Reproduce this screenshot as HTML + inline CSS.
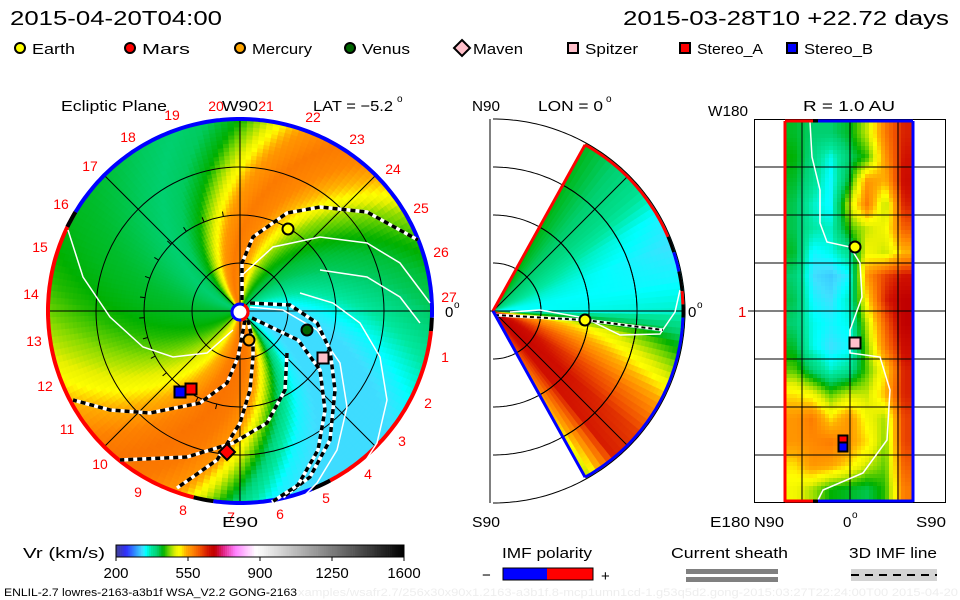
<!DOCTYPE html>
<html><head><meta charset="utf-8"><style>
html,body{margin:0;padding:0;background:#fff;}
svg{display:block;font-family:"Liberation Sans",sans-serif;}
</style></head><body>
<svg id="s" width="960" height="600" viewBox="0 0 960 600" xmlns="http://www.w3.org/2000/svg">
<rect width="960" height="600" fill="#fff"/>
<g id="leftCells"></g>
<g id="midCells"></g>
<g id="rightCells"></g>
<g id="overlay"></g>
<g id="texts" font-size="15" fill="#000">
<text x="10" y="25" font-size="20" textLength="212" lengthAdjust="spacingAndGlyphs">2015-04-20T04:00</text>
<text x="623" y="25" font-size="20" textLength="326" lengthAdjust="spacingAndGlyphs">2015-03-28T10 +22.72 days</text>
<text x="61" y="111" textLength="106" lengthAdjust="spacingAndGlyphs">Ecliptic Plane</text>
<text x="222" y="111" textLength="36" lengthAdjust="spacingAndGlyphs">W90</text>
<text x="313" y="111" textLength="80" lengthAdjust="spacingAndGlyphs">LAT = −5.2</text>
<text x="397" y="102" font-size="10">o</text>
<text x="222" y="527" textLength="36" lengthAdjust="spacingAndGlyphs">E90</text>
<text x="445" y="317">0</text><text x="454" y="308" font-size="10">o</text>
<text x="472" y="111" textLength="28" lengthAdjust="spacingAndGlyphs">N90</text>
<text x="538" y="111" textLength="65" lengthAdjust="spacingAndGlyphs">LON = 0</text>
<text x="606" y="102" font-size="10">o</text>
<text x="472" y="527" textLength="28" lengthAdjust="spacingAndGlyphs">S90</text>
<text x="688" y="317">0</text><text x="697" y="308" font-size="10">o</text>
<text x="708" y="116" textLength="40" lengthAdjust="spacingAndGlyphs">W180</text>
<text x="803" y="111" textLength="92" lengthAdjust="spacingAndGlyphs">R = 1.0 AU</text>
<text x="710" y="527" textLength="40" lengthAdjust="spacingAndGlyphs">E180</text>
<text x="754" y="527" textLength="30" lengthAdjust="spacingAndGlyphs">N90</text>
<text x="843" y="527">0</text><text x="852" y="518" font-size="10">o</text>
<text x="916" y="527" textLength="30" lengthAdjust="spacingAndGlyphs">S90</text>
<text x="738" y="317" fill="#e00">1</text>
<text x="23" y="558" textLength="82" lengthAdjust="spacingAndGlyphs">Vr (km/s)</text>
<text x="502" y="558" textLength="90" lengthAdjust="spacingAndGlyphs">IMF polarity</text>
<text x="482" y="580">−</text>
<text x="601" y="581">+</text>
<text x="671" y="558" textLength="117" lengthAdjust="spacingAndGlyphs">Current sheath</text>
<text x="849" y="558" textLength="88" lengthAdjust="spacingAndGlyphs">3D IMF line</text>
<text x="4" y="596" font-size="11" textLength="293" lengthAdjust="spacingAndGlyphs">ENLIL-2.7 lowres-2163-a3b1f WSA_V2.2 GONG-2163</text>
<text x="298" y="596" font-size="11" fill="#eee" textLength="660" lengthAdjust="spacingAndGlyphs">xamples/wsafr2.7/256x30x90x1.2163-a3b1f.8-mcp1umn1cd-1.g53q5d2.gong-2015:03:27T22:24:00T00    2015-04-20</text>
</g>
</svg>
<script>
// ---- data ----
const phaseDeg = [0,10,20,30,40,50,60,70,80,90,100,110,120,130,140,150,160,170,180,190,200,210,220,230,240,250,260,270,280,290,300,310,320,330,340,350];
const phaseVr = [328,328,340,362,385,405,415,435,465,525,570,580,560,490,430,405,400,405,412,418,422,428,438,455,478,505,545,575,585,580,560,470,390,340,328,328];
const latDeg = [60,50,40,30,20,10,0,-10,-20,-30,-40,-50,-60];
const latVrInner = [430,410,400,390,370,350,340,600,660,680,680,660,650];
const latVrOuter = [420,400,380,340,330,340,360,420,480,560,620,640,480];
const mapRows = [
[420,400,400,420,480,580,640],
[430,390,350,400,440,560,650],
[420,380,340,420,560,540,660],
[410,360,340,480,580,470,640],
[410,370,360,440,480,500,600],
[420,340,350,380,500,480,540],
[400,330,320,340,560,620,650],
[410,340,330,360,520,640,680],
[400,350,340,350,480,600,680],
[420,350,330,340,460,580,660],
[450,400,360,380,450,520,640],
[520,500,450,480,480,540,640],
[560,580,520,560,500,470,620],
[560,570,580,560,520,460,620],
[520,560,550,520,480,450,600],
[500,470,430,420,410,440,580]];
const cbTicks = [200,550,900,1250,1600];
const cmapVals = [200,250,300,330,345,370,400,430,460,490,510,540,570,610,650,680,720,780,880,1600];
const cmapCols = ["#404090","#3030ff","#30a0ff","#40e0ff","#00ffff","#00e8a0","#00d070","#00b000","#80d800","#e8f000","#ffff00","#ffb000","#ff8800","#f05000","#d01000","#c00000","#e02080","#ff80ff","#ffffff","#000000"];

const NS="http://www.w3.org/2000/svg";
function hex(c){return [parseInt(c.slice(1,3),16),parseInt(c.slice(3,5),16),parseInt(c.slice(5,7),16)];}
function cmap(v){
  if(v<=cmapVals[0]) return cmapCols[0];
  for(let i=0;i<cmapVals.length-1;i++){
    if(v<=cmapVals[i+1]){const t=(v-cmapVals[i])/(cmapVals[i+1]-cmapVals[i]);const a=hex(cmapCols[i]),b=hex(cmapCols[i+1]);
      return "rgb("+a.map((x,j)=>Math.round(x+(b[j]-x)*t)).join(",")+")";}
  }
  return cmapCols[cmapCols.length-1];
}
function el(tag,attrs,parent){const e=document.createElementNS(NS,tag);for(const k in attrs)e.setAttribute(k,attrs[k]);(parent||document.getElementById('overlay')).appendChild(e);return e;}
function pol(cx,cy,r,a){const t=a*Math.PI/180;return [cx+r*Math.cos(t),cy-r*Math.sin(t)];}
function lerpArr(xs,ys,x){
  for(let i=0;i<xs.length-1;i++){const a=xs[i],b=xs[i+1];if((x-a)*(x-b)<=0){const t=(x-a)/(b-a);return ys[i]+(ys[i+1]-ys[i])*t;}}
  return Math.abs(x-xs[0])<Math.abs(x-xs[xs.length-1])?ys[0]:ys[ys.length-1];
}
function phaseVel(p){p=((p%360)+360)%360;const i=Math.floor(p/10),t=(p-phaseDeg[i])/10;return phaseVr[i]+(phaseVr[(i+1)%36]-phaseVr[i])*t;}

// ---- left: ecliptic plane ----
const LX=240,LY=311,LR=192,K=0.26;
const lg=document.getElementById('leftCells');
for(let r=8;r<LR;r+=4){for(let a=0;a<360;a+=2){
  const r2=Math.min(r+4,LR);const v=phaseVel(a+1+K*(r+2));const c=cmap(v);
  const p=[pol(LX,LY,r,a),pol(LX,LY,r2,a),pol(LX,LY,r2,a+2),pol(LX,LY,r,a+2)];
  const e=el('polygon',{points:p.map(q=>q[0].toFixed(1)+","+q[1].toFixed(1)).join(" "),fill:c,stroke:c,'stroke-width':0.7},lg);
  
  
}}
const gl=el('g',{stroke:"#000",'stroke-width':1,fill:"none"});


[48,96,144].forEach(r=>el('circle',{cx:LX,cy:LY,r:r},gl));
[0,45,90,135].forEach(a=>{const p=pol(LX,LY,LR,a),q=pol(LX,LY,LR,a+180);el('line',{x1:p[0],y1:p[1],x2:q[0],y2:q[1]},gl);});
for(let a=100;a<260;a+=12){const p=pol(LX,LY,96,a),q=pol(LX,LY,101,a);el('line',{x1:p[0],y1:p[1],x2:q[0],y2:q[1]},gl);}
function arcPts(cx,cy,r,a1,a2){const pts=[];const st=a2>a1?1:-1;for(let a=a1;st>0?a<=a2:a>=a2;a+=st)pts.push(pol(cx,cy,r,a));pts.push(pol(cx,cy,r,a2));return pts.map(q=>q[0].toFixed(1)+","+q[1].toFixed(1)).join(" ");}
[[154,-2,"#0000ff"],[-2,-6,"#000"],[-6,-62,"#ff0000"],[-62,-68,"#000"],[-68,-98,"#0000ff"],[-98,-104,"#000"],[-104,-211,"#ff0000"],[-211,-206,"#000"]].forEach(s=>{
  const e=el('polyline',{points:arcPts(LX,LY,LR,s[0],s[1]),stroke:s[2],'stroke-width':4,fill:"none"});
  
  
});
function pl(pts,cls){
  if(cls==='w'){const e=el('polyline',{points:pts,stroke:"#fff",'stroke-width':1.5,fill:"none"});}
  else{el('polyline',{points:pts,stroke:"#fff",'stroke-width':3.5,fill:"none"});const e=el('polyline',{points:pts,stroke:"#000",'stroke-width':3.5,'stroke-dasharray':"5,4",fill:"none"});}
}
pl("68,230 83,277 110,317 143,347 173,357 207,353 233,330",'w');
pl("240,277 273,247 320,237 367,243 400,263 430,303",'w');
pl("250,307 283,310 317,330 340,363 347,407 337,450 317,483 300,500",'w');
pl("300,293 333,303 360,323 380,357 387,400 377,443 353,480",'w');
pl("320,270 367,277 400,297 420,323",'w');
pl("242,300 242,263 253,237 287,213 320,207 367,212 418,240",'d');
pl("250,303 290,305 317,323 330,350 335,390 330,440 310,477 283,497",'d');
pl("252,318 298,340 320,370 325,410 318,450 298,485 272,502",'d');
pl("248,320 253,343 253,357 250,390 240,423 217,460 177,488",'d');
pl("245,320 238,357 227,383 200,403 150,413 110,410 73,400",'d');
pl("287,353 285,390 267,423 233,443 187,457 120,460",'d');
el('circle',{cx:LX,cy:LY+1,r:8,fill:"#fff",stroke:"#0000ff",'stroke-width':3});
el('polyline',{points:arcPts(LX,LY+1,8,-80,60),stroke:"#ff0000",'stroke-width':3,fill:"none"});
const lonLabels=["1","2","3","4","5","6","7","8","9","10","11","12","13","14","15","16","17","18","19","20","21","22","23","24","25","26","27"];
const lonPos=[[445,357],[428,403],[402,441],[368,474],[326,498],[280,514],[231,517],[183,510],[138,492],[100,464],[67,429],[45,386],[34,341],[31,294],[40,247],[61,204],[90,166],[128,137],[172,115],[216,106],[266,106],[313,117],[357,139],[393,169],[421,208],[441,252],[449,297]];
lonLabels.forEach((t,i)=>{const e=el('text',{x:lonPos[i][0],y:lonPos[i][1]+5,'font-size':14,fill:"#ff0000",'text-anchor':"middle"});e.textContent=t;});

// ---- middle: meridional ----
const MX=493,MY=311,MR=190;
const mg=document.getElementById('midCells');
const mgrid=el('g',{stroke:"#000",'stroke-width':1,fill:"none"});


el('line',{x1:490,y1:119,x2:490,y2:503},mgrid);
[48,96,144,192].forEach(r=>el('polyline',{points:arcPts(MX,MY,r,90,-90)},mgrid));
for(let r=0;r<MR;r+=4){for(let a=-61;a<61;a+=2){
  const r2=r+4,t=(r+2)/MR,la=a+1;
  const v=lerpArr(latDeg,latVrInner,la)*(1-t)+lerpArr(latDeg,latVrOuter,la)*t;const c=cmap(v);
  const p=[pol(MX,MY,r,a),pol(MX,MY,r2,a),pol(MX,MY,r2,a+2),pol(MX,MY,r,a+2)];
  const e=el('polygon',{points:p.map(q=>q[0].toFixed(1)+","+q[1].toFixed(1)).join(" "),fill:c,stroke:c,'stroke-width':0.7},mg);
  
  
}}
const mg2=el('g',{stroke:"#000",'stroke-width':1,fill:"none"});
[48,96,144].forEach(r=>el('polyline',{points:arcPts(MX,MY,r,61,-61)},mg2));
el('line',{x1:490,y1:MY,x2:MX+MR,y2:MY},mg2);
[45,-45].forEach(a=>{const q=pol(MX,MY,MR,a);el('line',{x1:MX,y1:MY,x2:q[0],y2:q[1]},mg2);});
pl("510,312 540,310 585,318 620,335 660,334 675,312 680,290",'w');
el('polyline',{points:"495,315 585,320 663,330",stroke:"#fff",'stroke-width':3,fill:"none"});
el('polyline',{points:"495,315 585,320 663,330",stroke:"#000",'stroke-width':2,'stroke-dasharray':"4,3",fill:"none"});
{const tc=pol(MX,MY,MR,61);el('line',{x1:MX,y1:MY,x2:tc[0],y2:tc[1],stroke:"#ff0000",'stroke-width':3});
 const bc=pol(MX,MY,MR,-61);el('line',{x1:MX,y1:MY,x2:bc[0],y2:bc[1],stroke:"#0000ff",'stroke-width':3});}
[[61,23,"#ff0000"],[23,18,"#000"],[18,12,"#0000ff"],[12,6,"#000"],[6,2,"#ff0000"],[2,-2,"#000"],[-2,-61,"#0000ff"]].forEach(s=>{
  el('polyline',{points:arcPts(MX,MY,MR,s[0],s[1]),stroke:s[2],'stroke-width':3,fill:"none"});});

// ---- right: R = 1 AU map ----
const RX0=785,RX1=913,RY0=122,RY1=501;
const rg=document.getElementById('rightCells');
const nr=mapRows.length,nc=mapRows[0].length;
function mapVal(fx,fy){const x=Math.max(0,Math.min(nc-1,fx)),y=Math.max(0,Math.min(nr-1,fy));const i=Math.min(nc-2,Math.floor(x)),j=Math.min(nr-2,Math.floor(y));const tx=x-i,ty=y-j;
  return mapRows[j][i]*(1-tx)*(1-ty)+mapRows[j][i+1]*tx*(1-ty)+mapRows[j+1][i]*(1-tx)*ty+mapRows[j+1][i+1]*tx*ty;}
for(let y=RY0;y<RY1;y+=4){for(let x=RX0;x<RX1;x+=4){
  const fx=(x+2-RX0)/(RX1-RX0)*nc-0.5,fy=(y+2-RY0)/(RY1-RY0)*nr-0.5;
  const c=cmap(mapVal(fx,fy));
  const e=el('rect',{x:x,y:y,width:Math.min(4,RX1-x)+0.3,height:Math.min(4,RY1-y)+0.3,fill:c},rg);
  
  
}}
const rgr=el('g',{stroke:"#000",'stroke-width':1,fill:"none"});


el('rect',{x:754.5,y:119.5,width:191,height:383},rgr);
[802,850,898].forEach(x=>el('line',{x1:x,y1:119,x2:x,y2:503},rgr));
[167,215,263,311,359,407,455].forEach(y=>el('line',{x1:754,y1:y,x2:946,y2:y},rgr));
el('line',{x1:748,y1:311,x2:754,y2:311},rgr);
pl("810,122 812,157 820,190 820,223 827,242 850,247 860,263 862,297 850,330 850,353 880,357 890,390 887,440 863,473 823,490 817,502",'w');
el('line',{x1:RX0,y1:RY0-1,x2:RX0,y2:RY1+1,stroke:"#ff0000",'stroke-width':3});
el('line',{x1:RX1,y1:RY0-1,x2:RX1,y2:RY1+1,stroke:"#0000ff",'stroke-width':3});
[RY0-1,RY1].forEach(y=>{el('line',{x1:RX0,y1:y,x2:813,y2:y,stroke:"#ff0000",'stroke-width':3});el('line',{x1:813,y1:y,x2:818,y2:y,stroke:"#000",'stroke-width':3});el('line',{x1:818,y1:y,x2:RX1,y2:y,stroke:"#0000ff",'stroke-width':3});});

// ---- markers ----
function circ(x,y,c,name){const e=el('circle',{cx:x,cy:y,r:5.5,fill:c,stroke:"#000",'stroke-width':2});}
function sq(x,y,c,name,s){s=s||11;const e=el('rect',{x:x-s/2,y:y-s/2,width:s,height:s,fill:c,stroke:"#000",'stroke-width':2});}
function dia(x,y,c,name){const e=el('polygon',{points:`${x},${y-8} ${x+8},${y} ${x},${y+8} ${x-8},${y}`,fill:c,stroke:"#000",'stroke-width':2});}
circ(288,229,"#ffff00","earth-marker");circ(307,330,"#006400","venus-marker");circ(249,340,"#ffa500","mercury-marker");
dia(227,452,"#ff0000","mars-marker");sq(323,358,"#ffc0cb","spitzer-marker");
sq(180,392,"#0000ff","stereo-b-marker");sq(191,389,"#ff0000","stereo-a-marker");
circ(585,320,"#ffff00","earth-marker-mid");
circ(855,247,"#ffff00","earth-marker-right");sq(855,343,"#ffc0cb","spitzer-marker-right");
sq(843,440,"#ff0000","stereo-a-marker-right",9);sq(843,447,"#0000ff","stereo-b-marker-right",9);

// ---- legend ----
const legNames=["Earth","Mars","Mercury","Venus","Maven","Spitzer","Stereo_A","Stereo_B"];
const legX=[20,130,240,350,462,573,685,792];
const legW=[43,48,60,48,50,53,66,69];
legNames.forEach((n,i)=>{
  const x=legX[i],y=48;
  if(i<4){const e=el('circle',{cx:x,cy:y,r:5,fill:["#ffff00","#ff0000","#ffa500","#006400"][i],stroke:"#000",'stroke-width':2});}
  else if(i===4){const e=el('polygon',{points:`${x},${y-8} ${x+8},${y} ${x},${y+8} ${x-8},${y}`,fill:"#ffc0cb",stroke:"#000",'stroke-width':2});}
  else{const e=el('rect',{x:x-5,y:y-5,width:10,height:10,fill:["#ffc0cb","#ff0000","#0000ff"][i-5],stroke:"#000",'stroke-width':2});}
  const t=el('text',{x:x+(i===4?11:12),y:54,'font-size':15,textLength:legW[i],lengthAdjust:"spacingAndGlyphs"});t.textContent=n;
  
  
});

// ---- colorbar ----
const CB0=116,CB1=404,cbScale=v=>CB0+(v-200)/(1600-200)*(CB1-CB0);
for(let v=200;v<1600;v+=10){const e=el('rect',{x:cbScale(v),y:545,width:cbScale(v+10)-cbScale(v)+0.3,height:12,fill:cmap(v+5)});}
el('rect',{x:CB0,y:545,width:CB1-CB0,height:12,fill:"none",stroke:"#000",'stroke-width':1});
cbTicks.forEach(v=>{el('line',{x1:cbScale(v),y1:557,x2:cbScale(v),y2:561,stroke:"#000"});
  const t=el('text',{x:cbScale(v),y:578,'font-size':15,'text-anchor':"middle"});t.textContent=v;
  });
el('rect',{x:503,y:568,width:44,height:12,fill:"#0000ff"});el('rect',{x:547,y:568,width:46,height:12,fill:"#ff0000"});
el('rect',{x:503,y:568,width:90,height:12,fill:"none",stroke:"#000"});
el('rect',{x:686,y:569,width:92,height:5,fill:"#808080"});el('rect',{x:686,y:577,width:92,height:5,fill:"#808080"});
el('rect',{x:851,y:569,width:86,height:12,fill:"#d3d3d3"});
el('line',{x1:851,y1:575,x2:937,y2:575,stroke:"#000",'stroke-width':2,'stroke-dasharray':"8,6"});
document.getElementById('s').appendChild(document.getElementById('texts'));
</script>
</body></html>
